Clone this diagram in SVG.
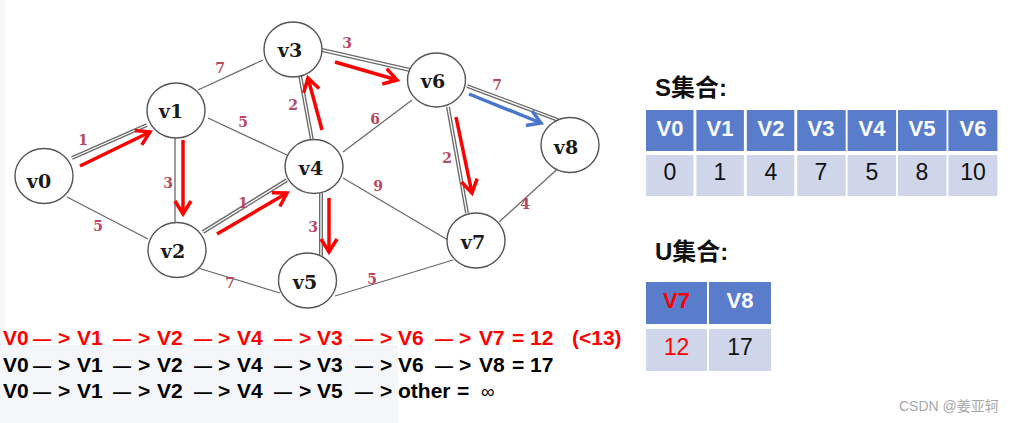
<svg xmlns="http://www.w3.org/2000/svg" width="1013" height="423" viewBox="0 0 1013 423">
<style>
.e{stroke:#6a6a6a;stroke-width:1.3;fill:none}
.d{stroke:#6a6a6a;stroke-width:4;fill:none}
.di{stroke:#ffffff;stroke-width:1.3;fill:none}
.n{fill:#ffffff;stroke:#555555;stroke-width:1.4}
.nt{font-family:"DejaVu Serif",serif;font-weight:bold;font-size:19px;fill:#1a1a1a;text-anchor:middle}
.w{font-family:"DejaVu Serif",serif;font-weight:bold;font-size:14px;fill:#b8485f;text-anchor:middle}
.ar{stroke:#ff0000;stroke-width:3.5;fill:none}
.ab{stroke:#4a76cc;stroke-width:3.5;fill:none}
.ln{font-family:"Liberation Sans",Arial,sans-serif;font-weight:bold;font-size:21px}
.dash{font-size:18px}
.ttl{font-family:"Liberation Sans","Noto Sans CJK SC",sans-serif;font-weight:bold;font-size:24px;fill:#111}
.hd{fill:#5a7dcb}
.dt{fill:#d0d6ea}
.ht{font-family:"Liberation Sans",Arial,sans-serif;font-weight:bold;font-size:22px;fill:#ffffff;text-anchor:middle}
.vt{font-family:"Liberation Sans",Arial,sans-serif;font-size:23px;fill:#111;text-anchor:middle}
</style>
<defs>
<marker id="mr" markerUnits="userSpaceOnUse" markerWidth="22" markerHeight="22" viewBox="0 0 22 22" refX="17" refY="11" orient="auto">
<path d="M4,3 L17,11 L4,19" fill="none" stroke="#ff0000" stroke-width="3.5"/>
</marker>
<marker id="mb" markerUnits="userSpaceOnUse" markerWidth="22" markerHeight="22" viewBox="0 0 22 22" refX="17" refY="11" orient="auto">
<path d="M4,3 L17,11 L4,19" fill="none" stroke="#4a76cc" stroke-width="3.5"/>
</marker>
</defs>
<rect x="0" y="0" width="1013" height="423" fill="#ffffff"/>
<rect x="0" y="0" width="5" height="345" fill="#f6f7f9"/>
<rect x="0" y="345" width="398" height="78" fill="#f5f6f9"/>

<g id="connectors">
<line class="e" x1="67" y1="197" x2="148" y2="239"/>
<line class="e" x1="198" y1="90" x2="263" y2="60"/>
<line class="e" x1="208" y1="118" x2="287" y2="155"/>
<line class="e" x1="175" y1="138" x2="175" y2="222"/>
<line class="e" x1="343" y1="152" x2="412" y2="100"/>
<line class="e" x1="343" y1="178" x2="448" y2="240"/>
<line class="e" x1="198" y1="268" x2="280" y2="293"/>
<line class="e" x1="335" y1="296" x2="453" y2="260"/>
<line class="e" x1="499" y1="222" x2="563" y2="164"/>
<line class="d" x1="72" y1="158" x2="147" y2="125"/><line class="di" x1="72" y1="158" x2="147" y2="125"/>
<line class="d" x1="300" y1="75" x2="312" y2="140"/><line class="di" x1="300" y1="75" x2="312" y2="140"/>
<line class="d" x1="322" y1="50" x2="410" y2="70"/><line class="di" x1="322" y1="50" x2="410" y2="70"/>
<line class="d" x1="203" y1="232" x2="287" y2="180"/><line class="di" x1="203" y1="232" x2="287" y2="180"/>
<line class="d" x1="321" y1="193" x2="321" y2="257"/><line class="di" x1="321" y1="193" x2="321" y2="257"/>
<line class="d" x1="448" y1="107" x2="467" y2="213"/><line class="di" x1="448" y1="107" x2="467" y2="213"/>
<line class="d" x1="467" y1="86" x2="558" y2="120"/><line class="di" x1="467" y1="86" x2="558" y2="120"/>
</g>

<g id="weights">
<text class="w" x="83" y="145">1</text>
<text class="w" x="220" y="73">7</text>
<text class="w" x="243" y="127">5</text>
<text class="w" x="293" y="110">2</text>
<text class="w" x="347" y="48">3</text>
<text class="w" x="497" y="90">7</text>
<text class="w" x="375" y="124">6</text>
<text class="w" x="447" y="163">2</text>
<text class="w" x="168" y="188">3</text>
<text class="w" x="98" y="231">5</text>
<text class="w" x="243" y="208">1</text>
<text class="w" x="313" y="232">3</text>
<text class="w" x="378" y="191">9</text>
<text class="w" x="525" y="209">4</text>
<text class="w" x="230" y="288">7</text>
<text class="w" x="372" y="284">5</text>
</g>

<g id="v0"><ellipse class="n" cx="44" cy="176" rx="29" ry="27.5"/><text class="nt" x="39" y="188">v0</text></g>
<g id="v1"><ellipse class="n" cx="176" cy="110.5" rx="29" ry="27.5"/><text class="nt" x="171" y="118">v1</text></g>
<g id="v2"><ellipse class="n" cx="177" cy="250" rx="29" ry="27.5"/><text class="nt" x="173" y="258">v2</text></g>
<g id="v3"><ellipse class="n" cx="293" cy="49.5" rx="29" ry="27.5"/><text class="nt" x="290" y="57">v3</text></g>
<g id="v4"><ellipse class="n" cx="314" cy="166.5" rx="29" ry="27"/><text class="nt" x="311" y="175">v4</text></g>
<g id="v5"><ellipse class="n" cx="307.5" cy="280.5" rx="29" ry="27.5"/><text class="nt" x="305" y="289">v5</text></g>
<g id="v6"><ellipse class="n" cx="436.5" cy="80" rx="29" ry="27"/><text class="nt" x="433" y="88">v6</text></g>
<g id="v7"><ellipse class="n" cx="476" cy="240.5" rx="29" ry="27.5"/><text class="nt" x="473" y="249">v7</text></g>
<g id="v8"><ellipse class="n" cx="570" cy="145" rx="29" ry="27.5"/><text class="nt" x="566" y="154">v8</text></g>

<g id="arrows">
<line class="ar" x1="80" y1="166" x2="150" y2="132" marker-end="url(#mr)"/>
<line class="ar" x1="183" y1="140" x2="183" y2="214" marker-end="url(#mr)"/>
<line class="ar" x1="217" y1="234" x2="287" y2="193" marker-end="url(#mr)"/>
<line class="ar" x1="322" y1="130" x2="308" y2="78" marker-end="url(#mr)"/>
<line class="ar" x1="335" y1="62" x2="397" y2="80" marker-end="url(#mr)"/>
<line class="ar" x1="456" y1="117" x2="472" y2="193" marker-end="url(#mr)"/>
<line class="ar" x1="329" y1="198" x2="329" y2="252" marker-end="url(#mr)"/>
<line class="ab" x1="469" y1="94" x2="541" y2="123" marker-end="url(#mb)"/>
</g>

<g id="path-lines">
<text class="ln" y="345" fill="#ff0000"><tspan x="3">V0</tspan><tspan class="dash" x="33">—</tspan><tspan x="58">&gt;</tspan><tspan x="77">V1</tspan><tspan class="dash" x="113">—</tspan><tspan x="138">&gt;</tspan><tspan x="157">V2</tspan><tspan class="dash" x="194">—</tspan><tspan x="218">&gt;</tspan><tspan x="237">V4</tspan><tspan class="dash" x="274">—</tspan><tspan x="299">&gt;</tspan><tspan x="317">V3</tspan><tspan class="dash" x="355">—</tspan><tspan x="380">&gt;</tspan><tspan x="398">V6</tspan><tspan class="dash" x="435">—</tspan><tspan x="459">&gt;</tspan><tspan x="479">V7</tspan><tspan x="512">=</tspan><tspan x="530">12</tspan><tspan x="572">(&lt;13)</tspan></text>
<text class="ln" y="372" fill="#000000"><tspan x="3">V0</tspan><tspan class="dash" x="33">—</tspan><tspan x="58">&gt;</tspan><tspan x="77">V1</tspan><tspan class="dash" x="113">—</tspan><tspan x="138">&gt;</tspan><tspan x="157">V2</tspan><tspan class="dash" x="194">—</tspan><tspan x="218">&gt;</tspan><tspan x="237">V4</tspan><tspan class="dash" x="274">—</tspan><tspan x="299">&gt;</tspan><tspan x="317">V3</tspan><tspan class="dash" x="355">—</tspan><tspan x="380">&gt;</tspan><tspan x="398">V6</tspan><tspan class="dash" x="435">—</tspan><tspan x="459">&gt;</tspan><tspan x="479">V8</tspan><tspan x="512">=</tspan><tspan x="530">17</tspan></text>
<text class="ln" y="398" fill="#000000"><tspan x="3">V0</tspan><tspan class="dash" x="33">—</tspan><tspan x="58">&gt;</tspan><tspan x="77">V1</tspan><tspan class="dash" x="113">—</tspan><tspan x="138">&gt;</tspan><tspan x="157">V2</tspan><tspan class="dash" x="194">—</tspan><tspan x="218">&gt;</tspan><tspan x="237">V4</tspan><tspan class="dash" x="274">—</tspan><tspan x="299">&gt;</tspan><tspan x="317">V5</tspan><tspan class="dash" x="355">—</tspan><tspan x="380">&gt;</tspan><tspan x="398">other</tspan><tspan x="457">=</tspan><tspan x="481" font-weight="normal" font-size="19">∞</tspan></text>
</g>

<g id="s-set">
<text class="ttl" x="655" y="96">S集合:</text>
<rect class="hd" x="646" y="110" width="47.5" height="41"/>
<rect class="hd" x="696.4" y="110" width="47.5" height="41"/>
<rect class="hd" x="746.8" y="110" width="47.5" height="41"/>
<rect class="hd" x="797.2" y="110" width="48.5" height="41"/>
<rect class="hd" x="847.6" y="110" width="48.5" height="41"/>
<rect class="hd" x="898" y="110" width="48.5" height="41"/>
<rect class="hd" x="948.4" y="110" width="49" height="41"/>
<rect class="dt" x="646" y="155" width="47.5" height="41"/>
<rect class="dt" x="696.4" y="155" width="47.5" height="41"/>
<rect class="dt" x="746.8" y="155" width="47.5" height="41"/>
<rect class="dt" x="797.2" y="155" width="48.5" height="41"/>
<rect class="dt" x="847.6" y="155" width="48.5" height="41"/>
<rect class="dt" x="898" y="155" width="48.5" height="41"/>
<rect class="dt" x="948.4" y="155" width="49" height="41"/>
<text class="ht" x="670" y="136">V0</text>
<text class="ht" x="720" y="136">V1</text>
<text class="ht" x="771" y="136">V2</text>
<text class="ht" x="821" y="136">V3</text>
<text class="ht" x="872" y="136">V4</text>
<text class="ht" x="922" y="136">V5</text>
<text class="ht" x="973" y="136">V6</text>
<text class="vt" x="670" y="180">0</text>
<text class="vt" x="720" y="180">1</text>
<text class="vt" x="771" y="180">4</text>
<text class="vt" x="821" y="180">7</text>
<text class="vt" x="872" y="180">5</text>
<text class="vt" x="922" y="180">8</text>
<text class="vt" x="973" y="180">10</text>
</g>

<g id="u-set">
<text class="ttl" x="655" y="260">U集合:</text>
<rect class="hd" x="646" y="282" width="61" height="42"/>
<rect class="hd" x="709" y="282" width="62" height="42"/>
<rect class="dt" x="646" y="329" width="61" height="42"/>
<rect class="dt" x="709" y="329" width="62" height="42"/>
<text class="ht" x="676.5" y="308" style="fill:#ff0000">V7</text>
<text class="ht" x="740" y="308">V8</text>
<text class="vt" x="676.5" y="355" style="fill:#ff0000">12</text>
<text class="vt" x="740" y="355">17</text>
</g>

<text x="899" y="411" font-family="Liberation Sans,'Noto Sans CJK SC',sans-serif" font-size="14" fill="#a8a8a8">CSDN @姜亚轲</text>
</svg>
